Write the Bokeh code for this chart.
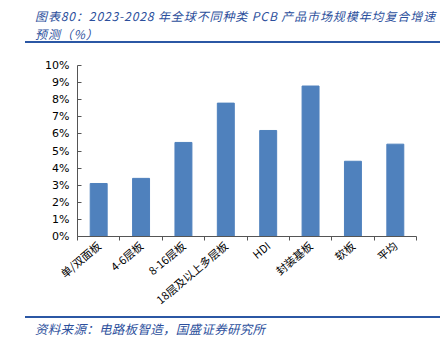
import math
from bokeh.plotting import figure
from bokeh.models import ColumnDataSource, FixedTicker, NumeralTickFormatter, Div
from bokeh.layouts import column
from bokeh.embed import file_html
from bokeh.resources import INLINE

categories = ["单/双面板", "4-6层板", "8-16层板", "18层及以上多层板", "HDI", "封装基板", "软板", "平均"]
cagr = [0.031, 0.034, 0.055, 0.078, 0.062, 0.088, 0.044, 0.054]
y_ticks = [0.0, 0.01, 0.02, 0.03, 0.04, 0.05, 0.06, 0.07, 0.08, 0.09, 0.10]

title_line1 = "图表80：2023-2028 年全球不同种类 PCB 产品市场规模年均复合增速"
title_line2 = "预测（%）"
source_text = "资料来源：电路板智造，国盛证券研究所"

BLUE_TXT = "#2C4F9C"
BAR = "#4F81BD"

xs = [i + 0.5 for i in range(len(categories))]
src = ColumnDataSource(dict(x=xs, top=cagr, cat=categories))

p = figure(width=448, height=272, output_backend="svg", toolbar_location=None,
           x_range=(0, len(categories)), y_range=(0, 0.10),
           min_border_left=77, min_border_right=32, min_border_top=21, min_border_bottom=80)
p.vbar(x="x", top="top", width=0.4, source=src, color=BAR)

p.xgrid.grid_line_color = None
p.ygrid.grid_line_color = None
p.outline_line_color = None

# x axis
p.xaxis.ticker = FixedTicker(ticks=xs, minor_ticks=list(range(len(categories) + 1)))
p.xaxis.major_label_overrides = {x: c for x, c in zip(xs, categories)}
p.xaxis.major_tick_line_color = None
p.xaxis.major_tick_in = 0
p.xaxis.major_tick_out = 0
p.xaxis.minor_tick_in = 0
p.xaxis.minor_tick_out = 4
p.xaxis.minor_tick_line_color = "#555555"
p.xaxis.axis_line_color = "#555555"
p.xaxis.major_label_orientation = 0.70
p.xaxis.major_label_text_font = "Noto Sans CJK SC"
p.xaxis.major_label_text_font_size = "11px"
p.xaxis.major_label_text_color = "#000000"
p.xaxis.major_label_standoff = 3

# y axis
p.yaxis.ticker = FixedTicker(ticks=y_ticks)
p.yaxis.formatter = NumeralTickFormatter(format="0%")
p.yaxis.major_tick_in = 4
p.yaxis.major_tick_out = 0
p.yaxis.minor_tick_line_color = None
p.yaxis.axis_line_color = "#555555"
p.yaxis.major_tick_line_color = "#555555"
p.yaxis.major_label_text_font = "DejaVu Sans"
p.yaxis.major_label_text_font_size = "11px"
p.yaxis.major_label_text_color = "#000000"
p.yaxis.major_label_standoff = 8

hdr_style = (f"box-sizing:border-box;font-family:'Noto Sans CJK SC';font-style:italic;font-size:12px;line-height:18px;"
             f"letter-spacing:0.9px;color:{BLUE_TXT};padding:7px 0 0 10px;border-bottom:2px solid #2B57A4;"
             f"width:415px;height:43px;white-space:nowrap;overflow:hidden;")
header = Div(text=f'<div style="{hdr_style}">{title_line1}<br>{title_line2}</div>',
             width=448, height=44, margin=(0, 0, 0, 25))
ftr_style = (f"box-sizing:border-box;font-family:'Noto Sans CJK SC';font-style:italic;font-size:12.5px;line-height:18px;"
             f"letter-spacing:0.3px;color:{BLUE_TXT};padding:2px 0 0 10px;border-top:2px solid #2B57A4;width:415px;white-space:nowrap;")
footer = Div(text=f'<div style="{ftr_style}">{source_text}</div>',
             width=448, height=35, margin=(0, 0, 0, 25))

layout = column(header, p, footer, spacing=0)
open("out.html", "w").write(file_html(layout, INLINE))
